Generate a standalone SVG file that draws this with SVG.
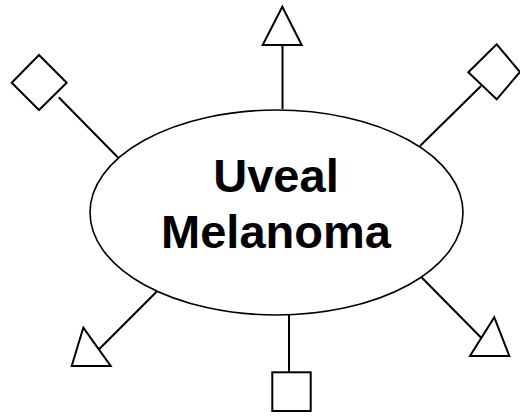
<svg xmlns="http://www.w3.org/2000/svg" width="520" height="417" viewBox="0 0 520 417">
<style>
.s{fill:#fff;stroke:#000;stroke-width:2}
.c{fill:none;stroke:#000;stroke-width:2}
.t{font-family:"Liberation Sans",Arial,sans-serif;font-weight:bold;font-size:47px;text-anchor:middle;fill:#000}
</style>
<rect width="520" height="417" fill="#fff"/>
<g id="connectors">
<line class="c" x1="282.5" y1="45" x2="282.5" y2="109"/>
<line class="c" x1="58.7" y1="97.3" x2="118.7" y2="158.3"/>
<line class="c" x1="481" y1="86" x2="420" y2="146"/>
<line class="c" x1="157.3" y1="291" x2="98.3" y2="350"/>
<line class="c" x1="289" y1="315" x2="289" y2="376"/>
<line class="c" x1="421" y1="276.7" x2="481.7" y2="338.3"/>
</g>
<g id="center">
<ellipse class="s" cx="276.5" cy="212.5" rx="186.5" ry="102.5" style="stroke-width:1.6"/>
<text class="t" x="276" y="192">Uveal</text>
<text class="t" x="276" y="248">Melanoma</text>
</g>
<g id="top-triangle"><polygon class="s" points="282.3,6.7 301.7,45 262.7,45"/></g>
<g id="top-left-diamond"><polygon class="s" points="39,55 66.7,82.7 39,110 11.7,82.7"/></g>
<g id="top-right-diamond"><polygon class="s" points="496.7,44.3 520,72 496.7,99.3 468.3,72.3"/></g>
<g id="bottom-left-triangle"><polygon class="s" points="83.3,327.7 110.7,366 71.7,366"/></g>
<g id="bottom-square"><rect class="s" x="272.3" y="372.3" width="38.4" height="38.7"/></g>
<g id="bottom-right-triangle"><polygon class="s" points="494.3,317.3 509.3,356 470,356"/></g>
</svg>
